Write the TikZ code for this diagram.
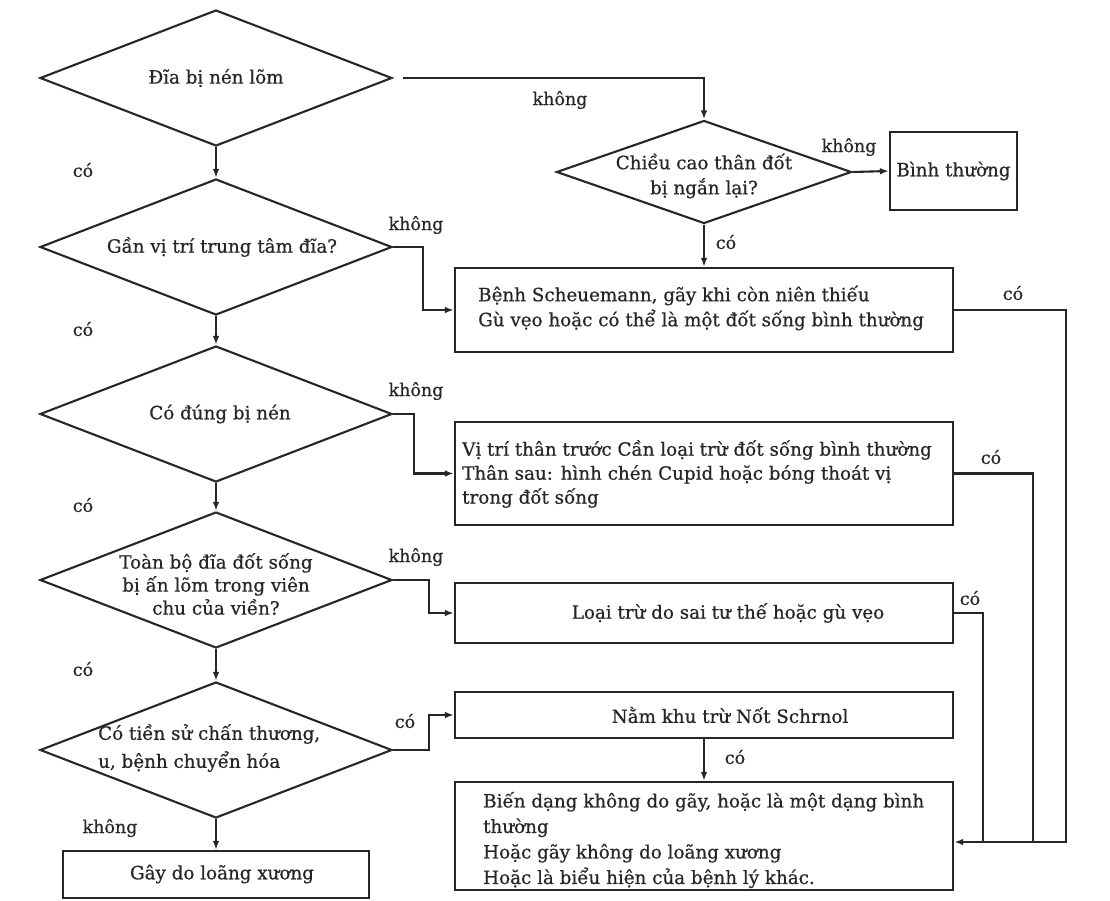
\documentclass[tikz,border=0pt]{standalone}
\usepackage{fontspec}
\setmainfont{DejaVu Serif}[FakeBold=0.6]
\usetikzlibrary{shapes.geometric,arrows.meta,calc}
\definecolor{ink}{HTML}{262626}
\begin{document}
\begin{tikzpicture}[x=1pt,y=-1pt,
  line/.style={draw=ink, line width=2.1pt},
  arr/.style={line, -{Latex[length=9pt,width=6.5pt]}},
  dia/.style={diamond, draw=ink, line width=2.1pt, minimum width=352pt, minimum height=136pt, inner sep=0pt},
  box/.style={rectangle, draw=ink, line width=2.1pt, inner sep=0pt},
  txt/.style={inner sep=0pt, text=ink, font=\fontsize{18.3}{25}\selectfont, align=center},
  ltxt/.style={inner sep=0pt, text=ink, font=\fontsize{18.3}{25}\selectfont, align=left, anchor=west},
  lbl/.style={inner sep=0pt, text=ink, font=\fontsize{17.5}{20}\selectfont}
]
\useasboundingbox (0,0) rectangle (1110,900);
\fill[white] (0,0) rectangle (1110,900);

% left column diamonds
\node[dia] (d1) at (216,78) {};
\node[txt] (t1) at (d1) {Đĩa bị nén lõm};
\node[dia] (d2) at (216,247) {};
\node[txt] (t2) at (222,247) {Gần vị trí trung tâm đĩa?};
\node[dia] (d3) at (216,414) {};
\node[txt] (t3) at (220,414) {Có đúng bị nén};
\node[dia] (d4) at (216,580) {};
\node[txt, font=\fontsize{18.3}{23}\selectfont] (t4) at (216,584) {Toàn bộ đĩa đốt sống\\bị ấn lõm trong viên\\chu của viền?};
\node[dia] (d5) at (216,750) {};
\node[ltxt, font=\fontsize{18.3}{28}\selectfont] (t5) at (98,748) {Có tiền sử chấn thương,\\u, bệnh chuyển hóa};
\node[box, minimum width=306pt, minimum height=47pt] (bg) at (216,874.5) {};
\node[txt] (tg) at (222,874) {Gây do loãng xương};

% top right
\node[dia, minimum width=295pt, minimum height=103pt] (dc) at (704,172) {};
\node[txt] (tc) at (704,176) {Chiều cao thân đốt\\bị ngắn lại?};
\node[box, minimum width=127pt, minimum height=78pt] (bt) at (953.5,171) {};
\node[txt] (tt) at (bt) {Bình thường};

% right column boxes
\node[box, minimum width=498pt, minimum height=84pt] (bs) at (704,310) {};
\node[ltxt] (ts) at (478,308) {Bệnh Scheuemann, gãy khi còn niên thiếu\\Gù vẹo hoặc có thể là một đốt sống bình thường};
\node[box, minimum width=498pt, minimum height=103pt] (bv) at (704,473.5) {};
\node[ltxt, font=\fontsize{18.3}{24}\selectfont] (tv) at (462,474) {Vị trí thân trước Cần loại trừ đốt sống bình thường\\Thân sau: hình chén Cupid hoặc bóng thoát vị\\trong đốt sống};
\node[box, minimum width=498pt, minimum height=60pt] (bl) at (704,613) {};
\node[txt] (tl) at (728,613) {Loại trừ do sai tư thế hoặc gù vẹo};
\node[box, minimum width=498pt, minimum height=46pt] (bn) at (704,715) {};
\node[txt] (tn) at (730,715) {Nằm khu trừ Nốt Schrnol};
\node[box, minimum width=498pt, minimum height=108pt] (bb) at (704,836) {};
\node[ltxt, font=\fontsize{18.3}{25.5}\selectfont] (tb) at (483,840) {Biến dạng không do gãy, hoặc là một dạng bình\\thường\\Hoặc gãy không do loãng xương\\Hoặc là biểu hiện của bệnh lý khác.};

% connectors
\draw[arr] ([xshift=10pt]d1.east) -| (dc.north);
\draw[arr] (d1.south) -- (d2.north);
\draw[arr] (d2.south) -- (d3.north);
\draw[arr] (d3.south) -- (d4.north);
\draw[arr] (d4.south) -- (d5.north);
\draw[arr] (d5.south) -- (bg.north);
\draw[arr] (dc.east) -- (bt.west);
\draw[arr] (dc.south) -- (bs.north);
\draw[arr] (d2.east) -- ++(30,0) |- (bs.west);
\draw[arr] (d3.east) -- ++(21,0) |- (bv.west);
\draw[arr] (d4.east) -- ++(36,0) |- (bl.west);
\draw[arr] (d5.east) -- ++(36,0) |- (bn.west);
\draw[arr] (bn.south) -- (bb.north);

\coordinate (bin) at ($(bb.east)+(0,6)$);
\coordinate (c1) at (1066,842);
\coordinate (c2) at (1033,842);
\coordinate (c3) at (983,842);
\draw[line] (bv.east) -- (bv.east -| c2) -- (c2);
\draw[line] (bl.east) -- (bl.east -| c3) -- (c3);
\draw[arr] (bs.east) -- (bs.east -| c1) -- (c1) -- (bin);

% labels
\node[lbl] at (83,170) {có};
\node[lbl] at (83,329) {có};
\node[lbl] at (83,505) {có};
\node[lbl] at (83,669) {có};
\node[lbl] at (110,828) {không};
\node[lbl] at (416,225) {không};
\node[lbl] at (416,391) {không};
\node[lbl] at (416,557) {không};
\node[lbl] at (405,721) {có};
\node[lbl] at (560,100) {không};
\node[lbl] at (849,147) {không};
\node[lbl] at (726,242) {có};
\node[lbl] at (1013,293) {có};
\node[lbl] at (991,457) {có};
\node[lbl] at (970,598) {có};
\node[lbl] at (735,757) {có};
\end{tikzpicture}
\end{document}
